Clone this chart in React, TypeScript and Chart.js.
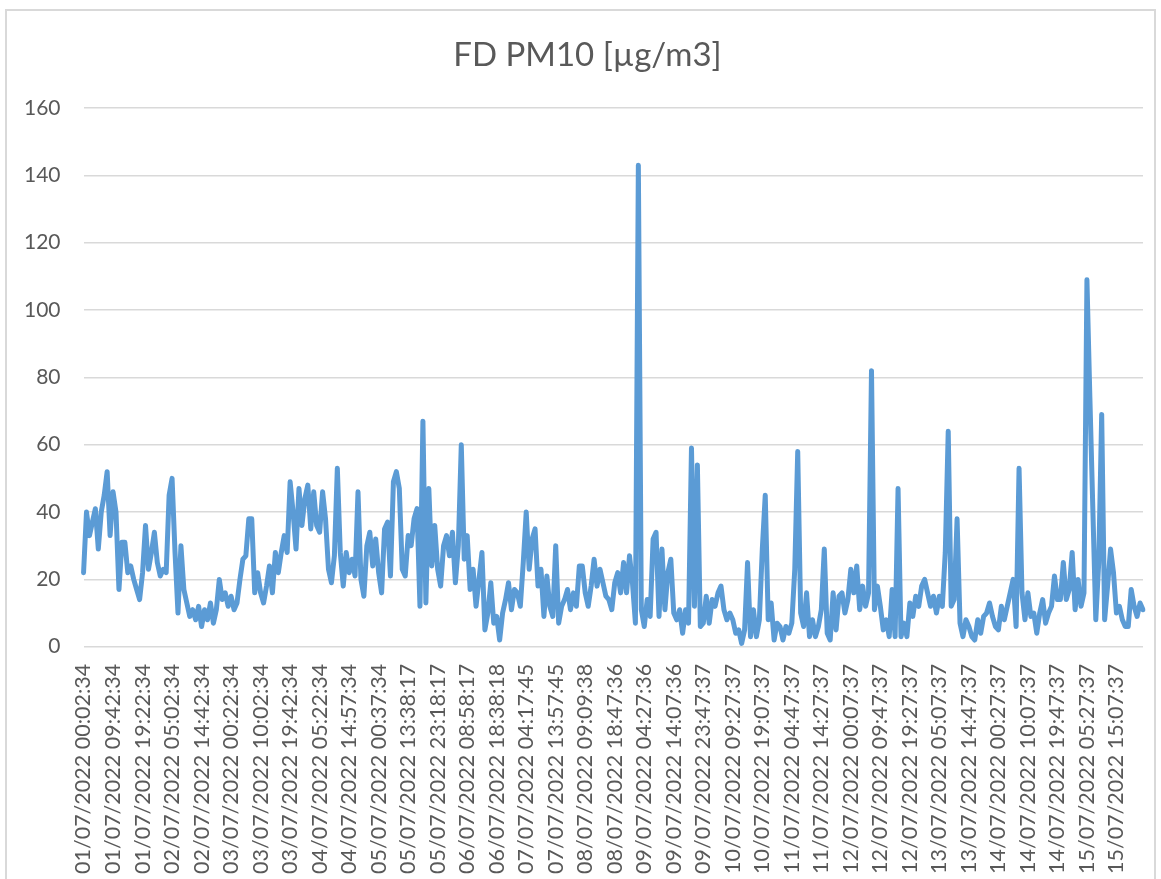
import React, { useEffect, useRef } from "react";
import { Chart, registerables } from "chart.js";

Chart.register(...registerables);

// Axis tick labels (one every POINTS_PER_TICK samples)
const tickLabels: string[] = [
  "01/07/2022 00:02:34", "01/07/2022 09:42:34", "01/07/2022 19:22:34",
  "02/07/2022 05:02:34", "02/07/2022 14:42:34", "03/07/2022 00:22:34",
  "03/07/2022 10:02:34", "03/07/2022 19:42:34", "04/07/2022 05:22:34",
  "04/07/2022 14:57:34", "05/07/2022 00:37:34", "05/07/2022 13:38:17",
  "05/07/2022 23:18:17", "06/07/2022 08:58:17", "06/07/2022 18:38:18",
  "07/07/2022 04:17:45", "07/07/2022 13:57:45", "08/07/2022 09:09:38",
  "08/07/2022 18:47:36", "09/07/2022 04:27:36", "09/07/2022 14:07:36",
  "09/07/2022 23:47:37", "10/07/2022 09:27:37", "10/07/2022 19:07:37",
  "11/07/2022 04:47:37", "11/07/2022 14:27:37", "12/07/2022 00:07:37",
  "12/07/2022 09:47:37", "12/07/2022 19:27:37", "13/07/2022 05:07:37",
  "13/07/2022 14:47:37", "14/07/2022 00:27:37", "14/07/2022 10:07:37",
  "14/07/2022 19:47:37", "15/07/2022 05:27:37", "15/07/2022 15:07:37",
];

const POINTS_PER_TICK = 10;

const chartTitle = "FD PM10 [µg/m3]";

// FD PM10 values [µg/m3]
const pm10Days01to03: number[] = [
  22, 40, 33, 37, 41, 29, 40, 45, 52, 33,
  46, 40, 17, 31, 31, 22, 24, 20, 17, 14,
  22, 36, 23, 28, 34, 25, 21, 23, 22, 45,
  50, 28, 10, 30, 17, 13, 9, 11, 8, 12,
  6, 11, 8, 13, 7, 11, 20, 14, 16, 12,
  15, 11, 13, 20, 26, 27, 38, 38, 16, 22,
];
const pm10Days03to05: number[] = [
  16, 13, 18, 24, 16, 28, 22, 28, 33, 28,
  49, 40, 29, 47, 36, 44, 48, 35, 46, 36,
  34, 46, 38, 23, 19, 27, 53, 28, 18, 28,
  22, 26, 21, 46, 20, 15, 30, 34, 24, 32,
  22, 16, 35, 37, 21, 49, 52, 47, 23, 21,
  33, 30, 38, 41, 12, 67, 13, 47, 24, 36,
];
const pm10Days05to08: number[] = [
  23, 18, 30, 33, 27, 34, 19, 30, 60, 26,
  33, 17, 23, 12, 20, 28, 5, 10, 19, 7,
  9, 2, 10, 14, 19, 11, 17, 16, 12, 25,
  40, 23, 32, 35, 18, 23, 9, 21, 12, 9,
  30, 7, 12, 14, 17, 11, 16, 12, 24, 24,
  16, 12, 18, 26, 18, 23, 19, 15, 14, 11,
];
const pm10Days08to10: number[] = [
  19, 22, 16, 25, 16, 27, 19, 7, 143, 11,
  6, 14, 9, 32, 34, 9, 29, 11, 22, 26,
  10, 8, 11, 4, 11, 7, 59, 12, 54, 6,
  7, 15, 7, 14, 12, 16, 18, 11, 8, 10,
  8, 4, 5, 1, 5, 25, 3, 11, 3, 8,
  29, 45, 8, 13, 2, 7, 6, 2, 6, 4,
];
const pm10Days10to13: number[] = [
  7, 23, 58, 10, 6, 16, 3, 8, 3, 6,
  11, 29, 4, 2, 16, 5, 15, 16, 10, 14,
  23, 16, 24, 11, 18, 12, 16, 82, 11, 18,
  12, 5, 8, 3, 17, 3, 47, 3, 7, 3,
  13, 9, 15, 12, 18, 20, 16, 12, 15, 10,
  15, 12, 28, 64, 12, 14, 38, 7, 3, 8,
];
const pm10Days13to15: number[] = [
  6, 3, 2, 8, 4, 9, 10, 13, 9, 6,
  5, 12, 8, 12, 16, 20, 6, 53, 16, 8,
  16, 9, 10, 4, 10, 14, 7, 10, 12, 21,
  14, 14, 25, 14, 17, 28, 11, 20, 12, 16,
  109, 74, 41, 8, 25, 69, 8, 18, 29, 22,
  10, 12, 8, 6, 6, 17, 12, 9, 13, 11,
];

const pm10: number[] = [
  ...pm10Days01to03,
  ...pm10Days03to05,
  ...pm10Days05to08,
  ...pm10Days08to10,
  ...pm10Days10to13,
  ...pm10Days13to15,
];

const categories: string[] = pm10.map((_, i) =>
  i % POINTS_PER_TICK === 0 && tickLabels[i / POINTS_PER_TICK] ? tickLabels[i / POINTS_PER_TICK] : ""
);

const yTicks = { min: 0, max: 160, step: 20 };

const FONT = "Lato, 'Open Sans', sans-serif";

export default function App() {
  const ref = useRef<HTMLCanvasElement | null>(null);

  useEffect(() => {
    if (!ref.current) return;
    const chart = new Chart(ref.current, {
      type: "line",
      data: {
        labels: categories,
        datasets: [
          {
            label: chartTitle,
            data: pm10,
            borderColor: "#5b9bd5",
            backgroundColor: "#5b9bd5",
            borderWidth: 5,
            borderJoinStyle: "round",
            borderCapStyle: "round",
            pointRadius: 0,
            tension: 0,
          },
        ],
      },
      options: {
        responsive: false,
        animation: false,
        maintainAspectRatio: false,
        layout: { autoPadding: false, padding: { left: 1, right: 18, top: 108, bottom: -12 } },
        plugins: {
          legend: { display: false },
          tooltip: { enabled: false },
          title: { display: false },
        },
        scales: {
          x: {
            type: "category",
            grid: { display: false, drawTicks: false },
            border: { display: false },
            ticks: {
              autoSkip: false,
              maxRotation: 90,
              minRotation: 90,
              padding: 17,
              color: "#595959",
              font: { family: FONT, size: 21.5 },
              callback: function (this: any, val: any) {
                const l = this.getLabelForValue(val);
                return l === "" ? null : l;
              },
            },
          },
          y: {
            min: yTicks.min,
            max: yTicks.max,
            grid: { color: "#d9d9d9", lineWidth: 1.5, drawTicks: false },
            border: { display: false },
            ticks: {
              stepSize: yTicks.step,
              padding: 23,
              color: "#595959",
              font: { family: FONT, size: 21 },
            },
          },
        },
      },
    });
    return () => chart.destroy();
  }, []);

  return (
    <div style={{ position: "fixed", left: 0, top: 0, width: 1161, height: 879, background: "#fff", overflow: "hidden" }}>
      <div
        style={{
          position: "absolute",
          left: 5,
          top: 9,
          width: 1147,
          height: 880,
          border: "2px solid #d9d9d9",
          borderBottom: "none",
        }}
      />
      <canvas ref={ref} width={1161} height={879} style={{ position: "absolute", left: 0, top: 0 }} />
      <div
        style={{
          position: "absolute",
          left: 0,
          top: 33,
          width: 1175,
          textAlign: "center",
          fontFamily: FONT,
          fontSize: 33,
          lineHeight: "40px",
          color: "#595959",
          whiteSpace: "nowrap",
        }}
      >
        {chartTitle}
      </div>
    </div>
  );
}
